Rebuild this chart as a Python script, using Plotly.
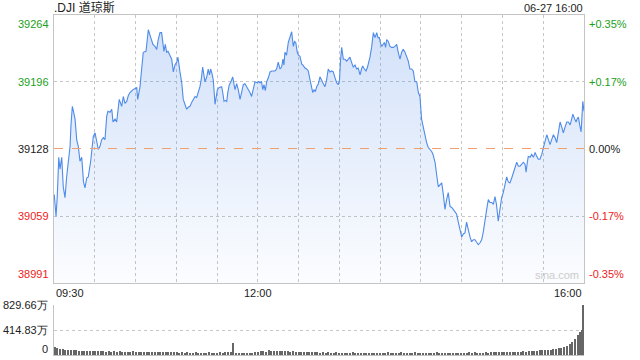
import plotly.graph_objects as go

# ---- data ----
price_minutes = [0.2,1.5,2.4,3.5,4.4,5.7,6.8,8.1,9.3,10.5,11.8,12.5,13.5,14.3,15.5,16.7,17.9,19.1,20.4,21.7,22.8,24.1,25.2,27,28,28.9,
 30.2,31.4,32.6,33.8,35.1,36.3,37.5,38.8,39.7,41.2,42.5,43.4,44.9,46.1,47.1,48,49.8,51,52.2,53.5,54.7,55.9,58.1,59.6,60.9,61.6,63.3,
 64.5,65.7,67.7,68.8,69.4,71.2,72.1,72.8,74.3,75.6,76.7,78,79.2,80.2,80.9,81.9,82.9,83.9,85.4,86.6,87.8,89,90.3,91.2,92.7,94,95.1,
 96.4,97.6,98.8,100.1,101.3,102.5,103.8,105,106.2,107.4,108.5,109.4,110.4,111.1,112.4,113.5,114.4,115.3,116.3,117.2,118.5,119.2,
 120.2,121.4,122.5,123.4,124.4,125.1,126.1,127.1,128,129,130.2,131.5,132.5,133.2,134.4,135.6,136.9,138,139.3,140.5,141.8,143,144.2,
 145.4,146.7,147.9,149.4,150.5,151.6,152.7,153.6,154.5,155.5,156.5,157.7,159,160.2,161.4,162.6,163.8,165,166.3,167.5,168.5,169.2,
 169.9,171.1,172.4,173.7,174.9,175.5,176.1,177,177.9,179,179.9,181,182.3,183.2,184.7,185.9,187.1,188.4,189.5,190.4,191.3,192.3,
 193.3,194.5,195.7,197,198.2,199.4,200.6,201.8,203.1,204.3,205.5,206.8,208,209.2,210.1,210.8,211.7,212.9,214.1,215.4,216.6,217.8,
 218.9,220.2,221.5,222.7,223.9,225.2,226.3,227.1,228.4,229.6,230.7,231.4,232.5,233.7,235,236.2,237.5,238.4,239.4,240.3,241.1,242.1,
 243.1,244,244.8,246,247.2,248.4,249.7,250.9,252.2,253.3,254.6,255.8,257,258.3,259.5,260.7,261.9,263.2,264.4,265.6,266.9,268.1,
 269.3,270.5,271.7,273,274.2,275.4,276.7,277.9,278.9,280.4,281.6,282.8,284,285.3,286.5,287.7,288.9,290.1,291.4,292.6,293.8,295.1,
 296.3,297.5,298.7,300,301.2,302.4,303.6,304.8,306.1,307.3,308.5,309.8,311,312.2,313.5,314.7,315.9,317.1,318.4,319.6,320.8,322.1,
 323.3,324.5,325.6,326.9,328.2,329.4,330.6,331.9,333.1,334.3,335.5,336.8,338,339.2,340.5,341.7,342.9,344.2,345.4,346.6,347.4,348.1,
 349,350.3,351.5,352.8,354,355.2,356.4,357.6,358.9,360.1,361.3,362.6,363.8,365,366.2,367.5,368.7,369.9,371.1,372.4,373.6,374.8,
 376.1,377.3,378.5,379.8,380.9,381.8,383.1,384.2,384.9,385.9,386.8,387.9,389.1,390]
price_values = [39081,39059,39079,39119,39107,39119,39089,39078,39099,39112,39130,39152,39171,39166,39158,39137,39130,39115,39119,39094,39088,39098,39099,39115,39127,39140,
 39144,39134,39127,39130,39137,39139,39137,39161,39166,39165,39168,39155,39158,39155,39170,39178,39171,39181,39174,39176,39182,39185,39188,39189,39190,39178,39191,
 39209,39226,39227,39239,39249,39241,39235,39234,39232,39229,39239,39246,39246,39234,39227,39234,39226,39227,39222,39219,39206,39213,39216,39221,39206,39195,39178,
 39173,39168,39170,39171,39175,39178,39181,39180,39186,39191,39200,39211,39202,39196,39201,39209,39203,39209,39204,39198,39173,39182,
 39188,39190,39191,39191,39183,39176,39177,39176,39186,39193,39196,39201,39193,39188,39194,39188,39178,39186,39193,39194,39191,39188,39185,
 39181,39188,39196,39195,39196,39195,39196,39188,39193,39187,39196,39200,39206,39207,39207,39207,39209,39216,39209,39211,39219,39213,
 39226,39223,39236,39241,39247,39239,39232,39237,39236,39226,39223,39222,39214,39213,39210,39209,39207,39198,39191,39185,39188,39186,
 39191,39194,39201,39198,39194,39191,39198,39209,39206,39207,39206,39200,39195,39193,39198,39217,39231,39219,39219,39217,39219,39221,
 39216,39211,39213,39209,39210,39203,39209,39212,39209,39207,39211,39214,39221,39231,39246,39241,39246,39241,39241,39235,39232,39234,
 39236,39231,39239,39237,39232,39231,39231,39232,39234,39226,39219,39226,39229,39226,39221,39217,39209,39209,39207,39196,39196,39185,
 39181,39158,39150,39140,39134,39129,39127,39125,39122,39114,39101,39089,39091,39093,39081,39066,39076,39083,39069,39068,39066,39064,
 39061,39053,39045,39038,39041,39042,39053,39045,39038,39033,39035,39035,39032,39030,39032,39035,39043,39056,39066,39076,39073,39073,
 39071,39079,39071,39054,39069,39078,39083,39091,39099,39094,39093,39098,39104,39109,39114,39110,39110,39112,39114,39112,39104,39112,
 39120,39119,39122,39119,39124,39120,39117,39117,39122,39129,39137,39142,39137,39132,39137,39142,39139,39134,39144,39155,39150,39144,
 39150,39155,39155,39152,39158,39163,39158,39155,39158,39160,39152,39145,39176,39166]

prev_close = 39128
y_ticks_left = [39264, 39196, 39128, 39059, 38991]
y_ticks_right = ["+0.35%", "+0.17%", "0.00%", "-0.17%", "-0.35%"]
tick_colors = ["#1ca01c", "#1ca01c", "#222222", "#ee2222", "#ee2222"]
x_tick_minutes = [0, 150, 390]
x_tick_labels = ["09:30", "12:00", "16:00"]

volume_values = [
 135,110,95,100,85,80,78,75,82,70,72,68,74,65,70,62,
 66,60,64,58,62,55,60,57,63,54,58,52,56,60,50,
 55,48,52,50,46,54,44,50,47,45,52,43,48,42,46,
 40,44,38,42,40,37,45,39,36,41,35,43,38,40,36,
 42,39,48,45,52,200,35,38,32,36,30,40,34,45,50,
 62,70,58,75,66,72,60,68,74,62,70,55,64,58,52,
 56,48,54,45,50,42,48,40,46,38,44,40,36,42,38,
 35,40,34,38,42,33,37,35,40,32,36,34,38,33,35,
 37,32,45,36,40,34,38,42,35,39,33,37,44,36,40,
 34,38,35,40,36,42,38,34,40,37,35,39,36,41,38,
 40,37,42,36,44,39,41,38,45,40,43,47,42,46,50,
 45,52,48,55,50,58,54,60,56,65,62,70,66,75,80,
 78,85,90,95,100,110,120,130,150,175,215,265,330,380,
 414,829.66]
volume_minutes = list(range(0, 389, 2)) + [389, 390]
vol_ticks = [0, 414.83, 829.66]
vol_tick_labels = ["0", "414.83万", "829.66万"]

title_text = ".DJI 道琼斯"
date_text = "06-27 16:00"

FONT = "Liberation Sans, Arial, sans-serif"
GRID = "#c6c6c6"
BORDER = "#c4c4c4"

fig = go.Figure()

fig.add_trace(go.Scatter(
    x=price_minutes, y=price_values, mode="lines",
    line=dict(color="#4f8be8", width=1.1),
    fill="tozeroy",
    fillgradient=dict(type="vertical", start=y_ticks_left[-1], stop=y_ticks_left[0],
                      colorscale=[[0, "rgba(74,134,232,0.02)"], [1, "rgba(74,134,232,0.26)"]]),
    hoverinfo="skip", showlegend=False, xaxis="x", yaxis="y"))

fig.add_trace(go.Bar(
    x=volume_minutes, y=volume_values, width=0.9,
    marker=dict(color="#666666", line=dict(width=0)),
    hoverinfo="skip", showlegend=False, xaxis="x2", yaxis="y2"))

xd = [54 / 640, 584 / 640]
main_dom = [(360 - 283) / 360, (360 - 15) / 360]
vol_dom = [(360 - 355) / 360, (360 - 305) / 360]

fig.update_layout(
    width=640, height=360,
    margin=dict(l=0, r=0, t=0, b=0),
    paper_bgcolor="white", plot_bgcolor="white",
    font=dict(family=FONT, size=11, color="#222"),
    bargap=0,
    xaxis=dict(domain=xd, range=[0, 390], tick0=0, dtick=30, showgrid=True,
               gridcolor=GRID, griddash="dot", gridwidth=1, showticklabels=False,
               ticks="", showline=True, linecolor=BORDER, mirror=True, zeroline=False,
               anchor="y", fixedrange=True),
    yaxis=dict(domain=main_dom, range=[y_ticks_left[-1], y_ticks_left[0]],
               tickvals=[y_ticks_left[1], y_ticks_left[3]], showticklabels=False,
               showgrid=True, gridcolor=GRID, griddash="dot", ticks="",
               showline=True, linecolor=BORDER, mirror=True, zeroline=False,
               anchor="x", fixedrange=True),
    xaxis2=dict(domain=xd, range=[-0.5, 390.6], showgrid=False, showticklabels=False,
                ticks="", showline=True, linecolor=BORDER, zeroline=False,
                anchor="y2", fixedrange=True),
    yaxis2=dict(domain=vol_dom, range=[0, vol_ticks[-1]], tickvals=vol_ticks[1:],
                showticklabels=False, showgrid=True, gridcolor=GRID, griddash="dot",
                ticks="", showline=True, linecolor=BORDER, zeroline=False,
                anchor="x2", fixedrange=True),
)

# previous close dashed line
fig.add_shape(type="line", xref="x domain", yref="y", x0=0, x1=1,
              y0=prev_close, y1=prev_close,
              line=dict(color="#f0a070", width=1, dash="dash"))

ann = []
n = len(y_ticks_left)
for i, (v, r, c) in enumerate(zip(y_ticks_left, y_ticks_right, tick_colors)):
    ya = "top" if i == 0 else ("bottom" if i == n - 1 else "middle")
    yshift = -1 if i == 0 else (1 if i == n - 1 else 0)
    ann.append(dict(x=0, xref="x domain", y=v, yref="y", text=str(v), showarrow=False,
                    xanchor="right", yanchor=ya, xshift=-3, yshift=yshift,
                    font=dict(color=c, size=11, family=FONT)))
    ann.append(dict(x=1, xref="x domain", y=v, yref="y", text=r, showarrow=False,
                    xanchor="left", yanchor=ya, xshift=3, yshift=yshift,
                    font=dict(color=c, size=11, family=FONT)))

for m, lab in zip(x_tick_minutes, x_tick_labels):
    xa = "left" if m == x_tick_minutes[0] else ("right" if m == x_tick_minutes[-1] else "center")
    ann.append(dict(x=m, xref="x", y=0, yref="y domain", text=lab, showarrow=False,
                    xanchor=xa, yanchor="top", yshift=-2,
                    font=dict(color="#222", size=11, family=FONT)))

for v, lab in zip(vol_ticks, vol_tick_labels):
    ya = "bottom" if v == 0 else "middle"
    ann.append(dict(x=0, xref="x2 domain", y=v, yref="y2", text=lab, showarrow=False,
                    xanchor="right", yanchor=ya, xshift=-4, yshift=(-2 if v == 0 else 0),
                    font=dict(color="#222", size=11, family=FONT)))

ann.append(dict(x=0, xref="x domain", y=1, yref="y domain", text=title_text, showarrow=False,
                xanchor="left", yanchor="middle", xshift=-1, yshift=7, borderpad=0,
                font=dict(color="#222", size=12, family=FONT + ", Noto Sans CJK SC")))
ann.append(dict(x=1, xref="x domain", y=1, yref="y domain", text=date_text, showarrow=False,
                xanchor="right", yanchor="middle", yshift=7, borderpad=0,
                font=dict(color="#222", size=11, family=FONT)))
ann.append(dict(x=1, xref="x domain", y=0, yref="y domain", text="sina.com", showarrow=False,
                xanchor="right", yanchor="bottom", xshift=-3, yshift=0,
                font=dict(color="#cccccc", size=11, family=FONT)))

fig.update_layout(annotations=ann)

fig.write_html("out.html", config={"displayModeBar": False},
               post_script="document.body.style.margin='0';document.body.style.padding='0';")
